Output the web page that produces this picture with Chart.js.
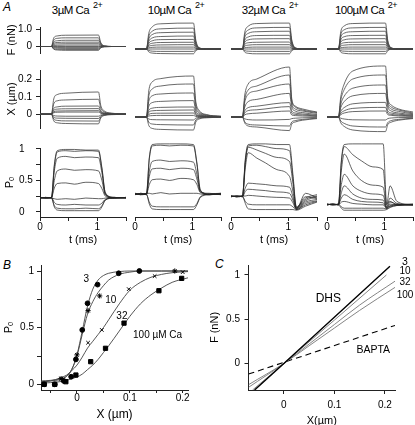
<!DOCTYPE html>
<html>
<head>
<meta charset="utf-8">
<script src="https://cdn.jsdelivr.net/npm/chart.js@4"></script>
<style>
  html, body { margin: 0; padding: 0; background: #fff; }
  #fig { position: relative; width: 415px; height: 425px; overflow: hidden; font-family: "Liberation Sans", Arial, Helvetica, sans-serif; color: #000; }
  #fig canvas { position: absolute; }
  .lbl { position: absolute; font-size: 12px; font-style: italic; line-height: 12px; }
  .ct { position: absolute; top: 4px; font-size: 11.5px; line-height: 12px; letter-spacing: -0.5px; white-space: nowrap; transform: translateX(-50%); }
  .ct sup { font-size: 9px; vertical-align: 6px; line-height: 0; margin-left: 1px; }
</style>
</head>
<body>
<div id="fig">
  <div class="lbl" style="left:3px;top:1px">A</div>
  <div class="ct" style="left:77px">3µM Ca <sup>2+</sup></div>
  <div class="ct" style="left:176px">10µM Ca <sup>2+</sup></div>
  <div class="ct" style="left:270px">32µM Ca <sup>2+</sup></div>
  <div class="ct" style="left:366px">100µM Ca <sup>2+</sup></div>
  <div class="lbl" style="left:3px;top:259px">B</div>
  <div class="lbl" style="left:215px;top:258px">C</div>
</div>
<script>
// ---- Panel A data: time grids (ms) and traces ----
const tStep = [0, 0.2, 0.24, 0.3, 0.45, 1.02, 1.06, 1.12, 1.25, 1.5];
const tPo = [0, 0.1, 0.2, 0.25, 0.3, 0.45, 0.6, 0.8, 1.02, 1.08, 1.14, 1.3, 1.5];
const tPo100 = [0, 0.1, 0.2, 0.25, 0.3, 0.45, 0.6, 0.8, 0.98, 1.04, 1.1, 1.22, 1.5];
const tTicks = [0, 0.5, 1, 1.5];

// force F (nN)
const force3 = [
  [0,0,0.5,0.61,0.65,0.66,0.23,0.03,0,0],
  [0,0,0.38,0.47,0.5,0.5,0.18,0.03,0,0],
  [0,0,0.27,0.33,0.36,0.36,0.13,0.02,0,0],
  [0,0,0.19,0.23,0.25,0.25,0.09,0.01,0,0],
  [0,0,0.12,0.15,0.16,0.16,0.06,0.01,0,0],
  [0,0,0.06,0.07,0.08,0.08,0.03,0,0,0],
  [0,0,0,0,0,0,0,0,0,0],
  [0,0,-0.04,-0.05,-0.05,-0.05,-0.02,0,0,0],
  [0,0,-0.08,-0.1,-0.11,-0.11,-0.04,-0.01,0,0],
  [0,0,-0.13,-0.16,-0.17,-0.17,-0.06,-0.01,0,0],
  [0,0,-0.16,-0.2,-0.22,-0.22,-0.08,-0.01,0,0]
];
const force10 = [
  [0,0,0.65,0.92,1.05,1.08,0.38,0.05,0,0],
  [0,0,0.52,0.74,0.84,0.87,0.3,0.04,0,0],
  [0,0,0.42,0.6,0.68,0.7,0.25,0.04,0,0],
  [0,0,0.32,0.46,0.52,0.54,0.19,0.03,0,0],
  [0,0,0.24,0.34,0.39,0.4,0.14,0.02,0,0],
  [0,0,0.17,0.24,0.27,0.28,0.1,0.01,0,0],
  [0,0,0.11,0.15,0.17,0.18,0.06,0.01,0,0],
  [0,0,0.05,0.07,0.08,0.08,0.03,0,0,0],
  [0,0,0,0,0,0,0,0,0,0],
  [0,0,-0.06,-0.09,-0.1,-0.1,-0.04,-0.01,0,0],
  [0,0,-0.12,-0.17,-0.19,-0.2,-0.07,-0.01,0,0]
];
const force32 = [
  [0,0,0.7,0.95,1.06,1.08,0.38,0.05,0,0],
  [0,0,0.58,0.79,0.88,0.9,0.32,0.04,0,0],
  [0,0,0.48,0.65,0.72,0.74,0.26,0.04,0,0],
  [0,0,0.37,0.5,0.56,0.57,0.2,0.03,0,0],
  [0,0,0.28,0.38,0.42,0.43,0.15,0.02,0,0],
  [0,0,0.19,0.26,0.28,0.29,0.1,0.01,0,0],
  [0,0,0.12,0.16,0.18,0.18,0.06,0.01,0,0],
  [0,0,0.05,0.07,0.08,0.08,0.03,0,0,0],
  [0,0,0,0,0,0,0,0,0,0],
  [0,0,-0.07,-0.09,-0.1,-0.1,-0.04,-0.01,0,0],
  [0,0,-0.13,-0.18,-0.2,-0.2,-0.07,-0.01,0,0]
];
const force100 = [
  [0,0,0.72,0.96,1.06,1.08,0.36,0.05,0,0],
  [0,0,0.6,0.8,0.88,0.9,0.3,0.04,0,0],
  [0,0,0.49,0.66,0.72,0.74,0.25,0.04,0,0],
  [0,0,0.38,0.51,0.56,0.57,0.19,0.03,0,0],
  [0,0,0.29,0.38,0.42,0.43,0.14,0.02,0,0],
  [0,0,0.19,0.26,0.28,0.29,0.1,0.01,0,0],
  [0,0,0.12,0.16,0.18,0.18,0.06,0.01,0,0],
  [0,0,0.05,0.07,0.08,0.08,0.03,0,0,0],
  [0,0,0,0,0,0,0,0,0,0],
  [0,0,-0.07,-0.09,-0.1,-0.1,-0.04,-0.01,0,0],
  [0,0,-0.13,-0.18,-0.2,-0.2,-0.07,-0.01,0,0]
];

// bundle displacement X (um)
const disp3 = [
  [0,0,0.088,0.113,0.121,0.128,0.05,0.019,0.006,0.001],
  [0,0,0.06,0.077,0.082,0.086,0.034,0.013,0.004,0.001],
  [0,0,0.033,0.042,0.046,0.047,0.019,0.007,0.002,0],
  [0,0,0.022,0.029,0.031,0.032,0.013,0.005,0.002,0],
  [0,0,0.014,0.018,0.019,0.02,0.008,0.003,0.001,0],
  [0,0,0.008,0.011,0.012,0.012,0.005,0.002,0,0],
  [0,0,-0.008,-0.011,-0.012,-0.012,-0.005,-0.002,0,0],
  [0,0,-0.018,-0.023,-0.024,-0.025,-0.01,-0.004,-0.001,0],
  [0,0,-0.028,-0.036,-0.039,-0.04,-0.016,-0.006,-0.002,0],
  [0,0,-0.039,-0.05,-0.054,-0.056,-0.022,-0.008,-0.003,-0.001]
];
const disp10 = [
  [0,0,0.13,0.175,0.192,0.205,0.078,0.033,0.012,0.004],
  [0,0,0.104,0.14,0.155,0.165,0.063,0.026,0.01,0.003],
  [0,0,0.078,0.106,0.115,0.12,0.046,0.019,0.007,0.002],
  [0,0,0.053,0.072,0.078,0.082,0.031,0.013,0.005,0.002],
  [0,0,0.033,0.044,0.048,0.05,0.019,0.008,0.003,0.001],
  [0,0,0.023,0.031,0.033,0.035,0.013,0.006,0.002,0.001],
  [0,0,0.013,0.018,0.019,0.02,0.008,0.003,0.001,0],
  [0,0,0.005,0.007,0.008,0.008,0.003,0.001,0,0],
  [0,0,-0.01,-0.013,-0.014,-0.015,-0.006,-0.002,-0.001,0],
  [0,0,-0.026,-0.035,-0.038,-0.04,-0.015,-0.006,-0.002,-0.001],
  [0,0,-0.042,-0.057,-0.062,-0.065,-0.025,-0.01,-0.004,-0.001]
];
const disp32 = [
  [0,0,0.11,0.165,0.19,0.25,0.09,0.055,0.04,0.025],
  [0,0,0.09,0.135,0.155,0.21,0.08,0.05,0.035,0.022],
  [0,0,0.075,0.114,0.13,0.165,0.065,0.04,0.03,0.018],
  [0,0,0.05,0.077,0.088,0.118,0.05,0.03,0.022,0.012],
  [0,0,0.031,0.047,0.054,0.072,0.03,0.02,0.015,0.008],
  [0,0,0.021,0.032,0.036,0.052,0.02,0.013,0.01,0.005],
  [0,0,0.011,0.016,0.019,0.03,0.01,0.007,0.005,0.003],
  [0,0,-0.009,-0.013,-0.015,-0.012,-0.008,-0.006,-0.004,-0.002],
  [0,0,-0.024,-0.036,-0.04,-0.045,-0.025,-0.018,-0.012,-0.006],
  [0,0,-0.03,-0.045,-0.05,-0.068,-0.035,-0.025,-0.016,-0.008]
];
const disp100 = [
  [0,0,0.1,0.165,0.23,0.255,0.095,0.06,0.04,0.025],
  [0,0,0.084,0.137,0.19,0.21,0.08,0.05,0.035,0.02],
  [0,0,0.064,0.104,0.144,0.16,0.065,0.04,0.028,0.016],
  [0,0,0.047,0.077,0.106,0.118,0.05,0.03,0.02,0.012],
  [0,0,0.029,0.047,0.066,0.073,0.03,0.02,0.014,0.008],
  [0,0,0.019,0.031,0.043,0.048,0.02,0.013,0.009,0.005],
  [0,0,0.012,0.02,0.027,0.03,0.012,0.008,0.005,0.003],
  [0,0,-0.006,-0.01,-0.014,-0.015,-0.008,-0.005,-0.003,-0.002],
  [0,0,-0.02,-0.032,-0.045,-0.05,-0.028,-0.018,-0.012,-0.006],
  [0,0,-0.029,-0.047,-0.065,-0.073,-0.038,-0.026,-0.016,-0.008]
];

// open probability Po
const po3 = [
  [0.23,0.22,0.23,0.75,0.97,0.99,0.99,0.98,0.98,0.7,0.3,0.22,0.23],
  [0.22,0.23,0.22,0.72,0.95,0.97,0.96,0.97,0.96,0.68,0.3,0.23,0.22],
  [0.23,0.22,0.23,0.65,0.85,0.88,0.86,0.87,0.86,0.62,0.28,0.22,0.23],
  [0.22,0.23,0.22,0.5,0.65,0.68,0.66,0.67,0.65,0.5,0.27,0.23,0.22],
  [0.23,0.22,0.23,0.38,0.45,0.46,0.44,0.47,0.45,0.37,0.25,0.22,0.23],
  [0.22,0.23,0.22,0.21,0.2,0.21,0.2,0.22,0.21,0.21,0.22,0.23,0.22],
  [0.23,0.22,0.23,0.15,0.12,0.11,0.12,0.11,0.11,0.14,0.2,0.22,0.23],
  [0.22,0.23,0.22,0.1,0.06,0.05,0.05,0.06,0.05,0.1,0.19,0.23,0.22],
  [0.23,0.22,0.23,0.08,0.03,0.02,0.02,0.02,0.02,0.08,0.19,0.22,0.23]
];
const po10 = [
  [0.26,0.25,0.27,0.8,0.99,1.0,1.0,1.0,0.99,0.72,0.32,0.25,0.26],
  [0.25,0.27,0.26,0.78,0.97,0.98,0.97,0.98,0.97,0.7,0.31,0.26,0.25],
  [0.27,0.25,0.26,0.6,0.74,0.76,0.74,0.75,0.73,0.55,0.3,0.26,0.27],
  [0.26,0.26,0.25,0.52,0.63,0.64,0.62,0.64,0.62,0.48,0.29,0.25,0.26],
  [0.25,0.27,0.26,0.4,0.47,0.48,0.46,0.49,0.47,0.4,0.28,0.27,0.25],
  [0.26,0.25,0.27,0.27,0.26,0.28,0.26,0.27,0.27,0.27,0.26,0.25,0.26],
  [0.27,0.26,0.25,0.14,0.08,0.07,0.07,0.07,0.07,0.12,0.22,0.26,0.27],
  [0.25,0.26,0.26,0.11,0.04,0.03,0.03,0.03,0.03,0.1,0.21,0.25,0.26]
];
const po32 = [
  [0.23,0.22,0.23,0.78,0.99,1.0,1.0,0.99,0.99,0.55,0.07,0.2,0.25],
  [0.22,0.23,0.22,0.75,0.97,0.98,0.96,0.93,0.9,0.5,0.06,0.18,0.23],
  [0.23,0.22,0.23,0.72,0.95,0.91,0.86,0.8,0.74,0.42,0.05,0.22,0.19],
  [0.22,0.23,0.22,0.65,0.87,0.79,0.72,0.62,0.52,0.3,0.05,0.16,0.22],
  [0.23,0.22,0.23,0.35,0.42,0.41,0.4,0.38,0.36,0.22,0.04,0.27,0.2],
  [0.22,0.23,0.22,0.3,0.33,0.32,0.31,0.29,0.27,0.17,0.04,0.14,0.18],
  [0.23,0.22,0.23,0.23,0.24,0.23,0.22,0.21,0.2,0.13,0.03,0.12,0.16],
  [0.22,0.23,0.22,0.15,0.11,0.1,0.1,0.1,0.1,0.07,0.03,0.1,0.15],
  [0.23,0.22,0.23,0.12,0.04,0.03,0.03,0.03,0.03,0.03,0.02,0.08,0.14]
];
const po100 = [
  [0.1,0.11,0.1,0.75,0.99,1.0,1.0,1.0,1.0,0.12,0.15,0.1,0.1],
  [0.11,0.1,0.11,0.72,0.96,0.84,0.75,0.66,0.62,0.1,0.38,0.15,0.1],
  [0.1,0.11,0.1,0.6,0.85,0.6,0.46,0.39,0.36,0.07,0.2,0.12,0.1],
  [0.11,0.1,0.11,0.4,0.55,0.38,0.3,0.26,0.24,0.06,0.14,0.11,0.1],
  [0.1,0.11,0.1,0.28,0.38,0.26,0.2,0.18,0.17,0.05,0.11,0.1,0.11],
  [0.11,0.1,0.11,0.2,0.25,0.18,0.15,0.14,0.13,0.05,0.09,0.1,0.1],
  [0.1,0.11,0.1,0.14,0.15,0.12,0.11,0.1,0.1,0.05,0.08,0.1,0.11],
  [0.11,0.1,0.11,0.07,0.05,0.05,0.05,0.05,0.05,0.04,0.07,0.09,0.1],
  [0.1,0.11,0.1,0.05,0.02,0.02,0.02,0.02,0.02,0.03,0.06,0.09,0.1]
];

// ---- Panel B data: Po vs X ----
const b3X = [-0.062, -0.042, -0.025, -0.011, -0.002, 0.01, 0.02, 0.039, 0.079, 0.118];
const b3Po = [0, 0, 0.03, 0.067, 0.22, 0.48, 0.715, 0.88, 0.98, 1.0];
const b10X = [-0.03, 0.0, 0.021, 0.043, 0.185];
const b10Po = [0.05, 0.26, 0.65, 0.78, 1.0];
const b32X = [-0.03, -0.022, 0.021, 0.047, 0.098, 0.147, 0.2];
const b32Po = [0.05, 0.03, 0.367, 0.48, 0.84, 0.955, 0.99];
const b100X = [-0.062, -0.042, -0.021, -0.002, 0.026, 0.054, 0.089, 0.155, 0.198];
const b100Po = [0, 0, 0.023, 0.082, 0.2, 0.318, 0.54, 0.826, 0.935];
const fitX = [-0.068, -0.05, -0.03, -0.02, -0.01, 0, 0.01, 0.02, 0.03, 0.04, 0.05, 0.06, 0.08, 0.1, 0.12, 0.14, 0.16, 0.18, 0.21];
const fit3 = [0.03, 0.035, 0.05, 0.07, 0.13, 0.26, 0.47, 0.69, 0.84, 0.92, 0.96, 0.98, 0.995, 1, 1, 1, 1, 1, 1];
const fit10 = [0.025, 0.03, 0.045, 0.07, 0.13, 0.25, 0.44, 0.62, 0.73, 0.81, 0.87, 0.92, 0.97, 0.99, 1, 1, 1, 1, 1];
const fit32 = [0.02, 0.03, 0.06, 0.08, 0.12, 0.17, 0.24, 0.32, 0.38, 0.44, 0.5, 0.57, 0.71, 0.83, 0.9, 0.945, 0.97, 0.985, 0.995];
const fit100 = [0.01, 0.015, 0.025, 0.035, 0.05, 0.065, 0.09, 0.13, 0.17, 0.22, 0.28, 0.34, 0.47, 0.6, 0.71, 0.79, 0.85, 0.9, 0.94];

// ---- Panel C data: F vs X ----
const c3X = [-0.058, 0, 0.21];
const c3F = [-0.3, 0, 1.1];
const c10X = [-0.062, 0, 0.1, 0.203];
const c10F = [-0.3, 0, 0.49, 1.0];
const c32X = [-0.07, 0, 0.05, 0.1, 0.15, 0.22];
const c32F = [-0.27, 0, 0.22, 0.44, 0.66, 0.93];
const c100X = [-0.07, 0, 0.05, 0.1, 0.15, 0.22];
const c100F = [-0.24, 0, 0.2, 0.4, 0.6, 0.86];
const baptaX = [-0.07, 0.22];
const baptaF = [-0.12, 0.43];

// ---- setup ----
const FONT = '"Liberation Sans", Arial, Helvetica, sans-serif';
Chart.defaults.font.family = FONT;
Chart.defaults.font.size = 10;
Chart.defaults.color = '#000';
Chart.defaults.animation = false;
Chart.defaults.plugins.legend.display = false;
Chart.defaults.plugins.tooltip.enabled = false;

const fig = document.getElementById('fig');

// text labels placed in data coordinates
const notesPlugin = {
  id: 'notes',
  afterDatasetsDraw(chart, args, opts) {
    const ctx = chart.ctx, xs = chart.scales.x, ys = chart.scales.y;
    (opts.items || []).forEach(n => {
      ctx.save();
      ctx.font = (n.size || 10) + 'px ' + FONT;
      ctx.fillStyle = '#000';
      ctx.textAlign = n.align || 'center';
      ctx.textBaseline = 'middle';
      ctx.fillText(n.text, xs.getPixelForValue(n.x), ys.getPixelForValue(n.y));
      ctx.restore();
    });
  }
};

function axis(a, isX) {
  if (!a.show) return { type: 'linear', display: false, min: a.min, max: a.max };
  return {
    type: 'linear', min: a.min, max: a.max,
    afterBuildTicks: s => { s.ticks = a.ticks.map(v => ({ value: v })); },
    afterFit: s => { if (isX) s.height = a.size; else s.width = a.size; },
    border: { display: true, color: '#222', width: 1 },
    grid: { drawOnChartArea: false, tickLength: a.tick || 4, color: '#222' },
    ticks: {
      autoSkip: false, maxRotation: 0, padding: a.pad, crossAlign: a.cross || 'near',
      font: { size: 10, lineHeight: 1 }, callback: a.fmt
    },
    title: a.title
      ? { display: true, text: a.title, font: { size: a.tsize || 11 }, padding: a.tpad }
      : { display: false }
  };
}

function panel(p) {
  const cv = document.createElement('canvas');
  cv.width = p.w; cv.height = p.h;
  cv.style.left = p.left + 'px'; cv.style.top = p.top + 'px';
  cv.style.width = p.w + 'px'; cv.style.height = p.h + 'px';
  fig.appendChild(cv);
  return new Chart(cv, {
    type: 'line',
    data: { datasets: p.datasets },
    options: {
      responsive: false, events: [],
      layout: { padding: p.pad },
      scales: { x: axis(p.x, true), y: axis(p.y, false) },
      plugins: { notes: { items: p.notes || [] } }
    },
    plugins: [notesPlugin]
  });
}

function traces(t, rows, color, width) {
  return rows.map(v => ({
    data: t.map((tt, i) => ({ x: tt, y: v[i] })),
    borderColor: color, borderWidth: width, pointRadius: 0,
    cubicInterpolationMode: 'monotone', clip: false
  }));
}

function pts(xs, ys) { return xs.map((x, i) => ({ x, y: ys[i] })); }

// ---- Panel A ----
const colLeft = [40, 135, 231, 327];
const colW = 86;
const forceSets = [force3, force10, force32, force100];
const dispSets = [disp3, disp10, disp32, disp100];
const poSets = [po3, po10, po32, po100];
const poTimes = [tPo, tPo, tPo, tPo100];

colLeft.forEach((x0, c) => {
  const first = c === 0;
  // F row
  panel({
    left: first ? 0 : x0 - 5, top: 18, w: first ? 40 + colW + 5 : colW + 10, h: 44,
    pad: { left: first ? 0 : 5, right: 5, top: 4, bottom: 4 },
    x: { show: false, min: 0, max: 1.5 },
    y: { show: first, min: -0.375, max: 1.125, ticks: [0, 1], fmt: v => v === 1 ? '1.0' : '0',
         size: 40, pad: 4, title: 'F (nN)', tpad: { top: 5, bottom: 0 } },
    datasets: traces(tStep, forceSets[c], '#444', 0.8)
  });
  // X row
  panel({
    left: first ? 0 : x0 - 5, top: 61, w: first ? 40 + colW + 5 : colW + 10, h: 76,
    pad: { left: first ? 0 : 5, right: 5, top: 5, bottom: 4 },
    x: { show: false, min: 0, max: 1.5 },
    y: { show: first, min: -0.08, max: 0.255, ticks: [0, 0.1, 0.2], fmt: v => String(v),
         size: 40, pad: 4, title: 'X (µm)', tpad: { top: 5, bottom: 0 } },
    datasets: traces(tStep, dispSets[c], '#444', 0.8)
  });
  // Po row
  panel({
    left: first ? 0 : x0 - 5, top: 139, w: first ? 19 + 21 + colW + 5 : colW + 10, h: 110,
    pad: { left: first ? 19 : 5, right: 5, top: 4, bottom: 0 },
    x: { show: true, min: 0, max: 1.5, ticks: tTicks, fmt: v => (v === 0 || v === 1) ? String(v) : '',
         size: 32, pad: 1, title: 't (ms)', tpad: { top: 0, bottom: 2.4 } },
    y: { show: first, min: -0.08, max: 1.013, ticks: [0, 0.25, 0.5, 0.75, 1],
         fmt: v => (v === 0 || v === 0.5 || v === 1) ? String(v) : '',
         size: 21, pad: 4, cross: 'far', title: 'Pₒ', tpad: { top: -15.6, bottom: 0 } },
    datasets: traces(poTimes[c], poSets[c], '#222', 0.7)
  });
});

// ---- Panel B ----
const fitStyle = { borderColor: '#444', borderWidth: 0.9, pointRadius: 0, cubicInterpolationMode: 'monotone' };
const dotStyle = { showLine: false, borderColor: '#000', backgroundColor: '#000', borderWidth: 1 };
panel({
  left: 0, top: 250, w: 205, h: 175,
  pad: { left: 0, top: 15, right: 17, bottom: 0 },
  x: { show: true, min: -0.068, max: 0.21, ticks: [-0.05, 0, 0.05, 0.1, 0.15, 0.2],
       fmt: v => (v === 0 || v === 0.1 || v === 0.2) ? String(v) : '',
       size: 35, tick: 3, pad: 0.5, title: 'X (µm)', tsize: 12, tpad: { top: 0, bottom: 3.3 } },
  y: { show: true, min: -0.05, max: 1.053, ticks: [0, 0.25, 0.5, 0.75, 1],
       fmt: v => (v === 0 || v === 0.5 || v === 1) ? String(v) : '',
       size: 41, pad: 3, title: 'Pₒ', tpad: { top: 2.4, bottom: 0 } },
  datasets: [
    Object.assign({ data: pts(b3X, b3Po), pointStyle: 'circle', pointRadius: 2.4 }, dotStyle),
    Object.assign({ data: pts(b10X, b10Po), pointStyle: 'star', pointRadius: 2.6 }, dotStyle),
    Object.assign({ data: pts(b32X, b32Po), pointStyle: 'crossRot', pointRadius: 2.5 }, dotStyle),
    Object.assign({ data: pts(b100X, b100Po), pointStyle: 'rect', pointRadius: 3 }, dotStyle),
    Object.assign({ data: pts(fitX, fit3) }, fitStyle),
    Object.assign({ data: pts(fitX, fit10) }, fitStyle),
    Object.assign({ data: pts(fitX, fit32) }, fitStyle),
    Object.assign({ data: pts(fitX, fit100) }, fitStyle)
  ],
  notes: [
    { x: 0.0177, y: 0.927, text: '3' },
    { x: 0.064, y: 0.745, text: '10' },
    { x: 0.085, y: 0.605, text: '32' },
    { x: 0.106, y: 0.43, text: '100 µM Ca', align: 'left' }
  ]
});

// ---- Panel C ----
const grayLine = { borderColor: '#777', borderWidth: 0.9, pointRadius: 0, cubicInterpolationMode: 'monotone' };
panel({
  left: 205, top: 250, w: 210, h: 185,
  pad: { left: 0, top: 15, right: 20, bottom: 0 },
  x: { show: true, min: -0.07, max: 0.22, ticks: [0, 0.1, 0.2], fmt: v => String(v),
       size: 45, pad: 6, title: 'X(µm)', tpad: { top: 0, bottom: 7.4 } },
  y: { show: true, min: -0.3, max: 1.113, ticks: [0, 0.5, 1], fmt: v => String(v),
       size: 43.5, pad: 4.5, title: 'F (nN)', tpad: { top: 3.4, bottom: 0 } },
  datasets: [
    { data: pts(c3X, c3F), borderColor: '#000', borderWidth: 1.4, pointRadius: 0 },
    Object.assign({ data: pts(c10X, c10F) }, grayLine),
    Object.assign({ data: pts(c32X, c32F) }, grayLine),
    Object.assign({ data: pts(c100X, c100F) }, grayLine),
    { data: pts(baptaX, baptaF), borderColor: '#000', borderWidth: 1.1, borderDash: [6, 4], pointRadius: 0 }
  ],
  notes: [
    { x: 0.2398, y: 1.144, text: '3', size: 10.5 },
    { x: 0.2398, y: 1.037, text: '10' },
    { x: 0.2398, y: 0.913, text: '32' },
    { x: 0.2398, y: 0.774, text: '100' },
    { x: 0.088, y: 0.737, text: 'DHS', size: 12 },
    { x: 0.177, y: 0.152, text: 'BAPTA', size: 10.5 }
  ]
});
</script>
</body>
</html>
